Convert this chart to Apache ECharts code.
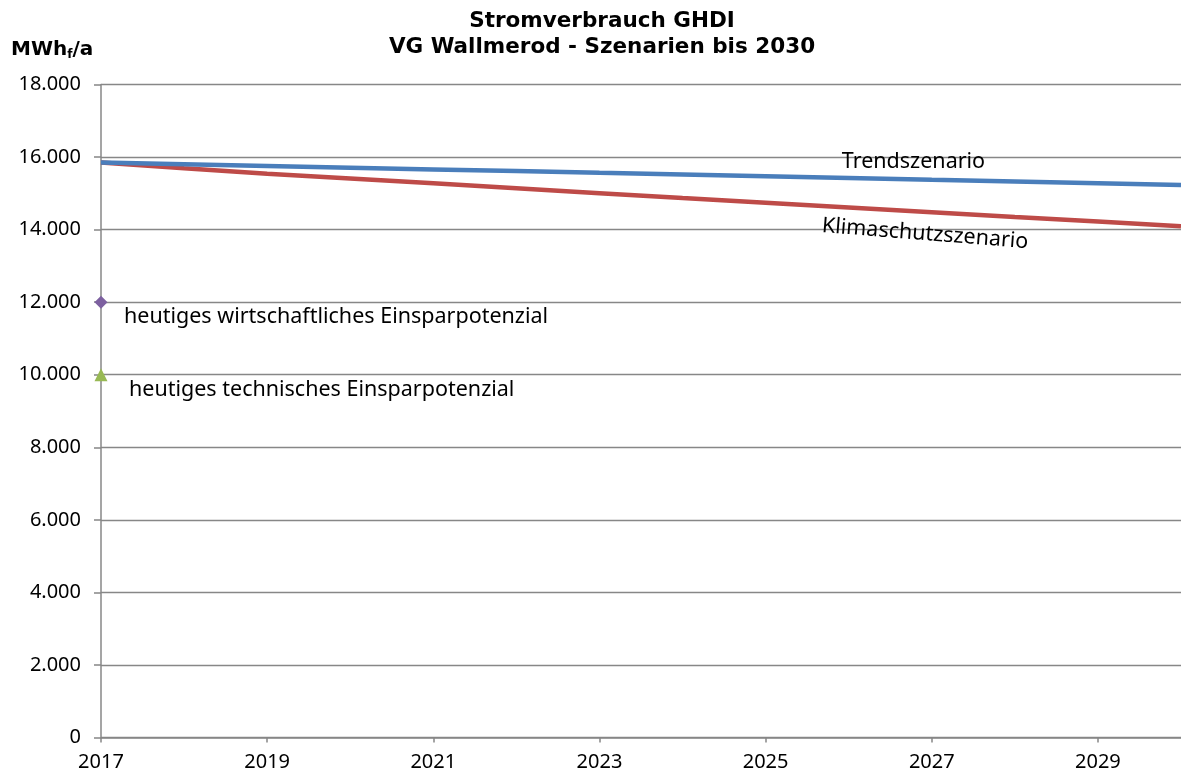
<!DOCTYPE html>
<html><head><meta charset="utf-8">
<script src="https://cdn.jsdelivr.net/npm/echarts@6/dist/echarts.min.js"></script>
<style>html,body{margin:0;padding:0;background:#fff}#c{width:1181px;height:775px}</style>
</head><body><div id="c"></div>
<script>
// ---- data ----
const startYear = 2017;
const years = [2017, 2018, 2019, 2020, 2021, 2022, 2023, 2024, 2025, 2026, 2027, 2028, 2029, 2030];
const trendszenario = [15850, 15803, 15755, 15708, 15660, 15613, 15565, 15518, 15470, 15423, 15375, 15328, 15280, 15233];
const klimaschutzszenario = [15850, 15690, 15537, 15410, 15275, 15140, 15005, 14870, 14740, 14610, 14480, 14350, 14225, 14095];
const wirtschaftlichesPotenzial = [[2017, 12000]];
const technischesPotenzial = [[2017, 10000]];
const yMin = 0, yMax = 18000, yStep = 2000;
const xStep = 2;
const titleLines = ['Stromverbrauch GHDI', 'VG Wallmerod - Szenarien bis 2030'];
const labelTrend = 'Trendszenario';
const labelKlima = 'Klimaschutzszenario';
const labelWirt = 'heutiges wirtschaftliches Einsparpotenzial';
const labelTech = 'heutiges technisches Einsparpotenzial';

// ---- chart ----
const GRAY = '#878787';
const TXT = 'Noto Sans';
const off = y => y - startYear;
const fmt = v => String(v).replace(/\B(?=(\d{3})+(?!\d))/g, '.');

const chart = echarts.init(document.getElementById('c'), null, {renderer: 'canvas'});
const option = {
  animation: false,
  backgroundColor: '#fff',
  grid: {left: 101, top: 84.5, right: -10, bottom: 37.5, containLabel: false},
  xAxis: {
    type: 'value', min: 0, max: off(years[years.length - 1]), interval: xStep,
    axisLine: {show: true, lineStyle: {color: GRAY, width: 1.5}},
    axisTick: {show: true, length: 5, lineStyle: {color: GRAY, width: 1.5}},
    splitLine: {show: false},
    axisLabel: {margin: 15, color: '#000', fontFamily: TXT, fontSize: 20,
      showMaxLabel: false, formatter: v => String(startYear + v)}
  },
  yAxis: {
    type: 'value', min: yMin, max: yMax, interval: yStep,
    axisLine: {show: true, lineStyle: {color: GRAY, width: 1.5}},
    axisTick: {show: true, length: 7, lineStyle: {color: GRAY, width: 1.5}},
    splitLine: {show: true, lineStyle: {color: GRAY, width: 1.3}},
    axisLabel: {margin: 20, color: '#000', fontFamily: TXT, fontSize: 20, formatter: v => fmt(v)}
  },
  series: [
    {name: labelTrend, type: 'line', showSymbol: false, symbol: 'none',
     data: years.map((y, i) => [off(y), trendszenario[i]]),
     lineStyle: {color: '#4A7EBB', width: 4.5}, z: 3},
    {name: labelKlima, type: 'line', showSymbol: false, symbol: 'none',
     data: years.map((y, i) => [off(y), klimaschutzszenario[i]]),
     lineStyle: {color: '#BE4B48', width: 4.5}, z: 2},
    {name: labelWirt, type: 'scatter', symbol: 'diamond', symbolSize: 13,
     data: wirtschaftlichesPotenzial.map(d => [off(d[0]), d[1]]),
     itemStyle: {color: '#7D60A0', opacity: 1}, z: 4},
    {name: labelTech, type: 'scatter', symbol: 'triangle', symbolSize: 13,
     data: technischesPotenzial.map(d => [off(d[0]), d[1]]),
     itemStyle: {color: '#98B954', opacity: 1}, z: 4}
  ]
};
chart.setOption(option);

// text annotations anchored in data coordinates
const pTrend = chart.convertToPixel({gridIndex: 0}, [9.78, 15870]);
const pKlima = chart.convertToPixel({gridIndex: 0}, [9.92, 13880]);
const pWirt = chart.convertToPixel({gridIndex: 0}, [off(wirtschaftlichesPotenzial[0][0]), wirtschaftlichesPotenzial[0][1]]);
const pTech = chart.convertToPixel({gridIndex: 0}, [off(technischesPotenzial[0][0]), technischesPotenzial[0][1]]);
const txt = (x, y, text, extra) => Object.assign({type: 'text', x, y, z: 10, style: {text, font: '21.5px "Noto Sans"', fill: '#000',
  align: 'center', verticalAlign: 'middle', textAlign: 'center', textVerticalAlign: 'middle'}}, extra || {});
const left = o => { o.style.align = 'left'; o.style.textAlign = 'left'; return o; };
chart.setOption({
  graphic: [
    {type: 'text', x: 602, y: 21, style: {text: titleLines[0], font: 'bold 21.5px "DejaVu Sans"', fill: '#000',
      align: 'center', verticalAlign: 'middle', textAlign: 'center', textVerticalAlign: 'middle'}},
    {type: 'text', x: 602, y: 47, style: {text: titleLines[1], font: 'bold 21.5px "DejaVu Sans"', fill: '#000',
      align: 'center', verticalAlign: 'middle', textAlign: 'center', textVerticalAlign: 'middle'}},
    {type: 'text', x: 11, y: 50, style: {
      text: '{b|MWh}{s|f}{b|/a}', verticalAlign: 'middle', textVerticalAlign: 'middle',
      rich: {b: {fontFamily: 'DejaVu Sans', fontWeight: 'bold', fontSize: 20, fill: '#000', color: '#000'},
             s: {fontFamily: 'DejaVu Sans', fontWeight: 'bold', fontSize: 12, fill: '#000', color: '#000', padding: [10, 0, 0, 0]}}}},
    txt(pTrend[0], pTrend[1], labelTrend),
    txt(pKlima[0], pKlima[1], labelKlima, {rotation: -4.5 * Math.PI / 180}),
    left(txt(pWirt[0] + 23, pWirt[1] + 15, labelWirt)),
    left(txt(pTech[0] + 28, pTech[1] + 15, labelTech))
  ]
});
</script></body></html>
